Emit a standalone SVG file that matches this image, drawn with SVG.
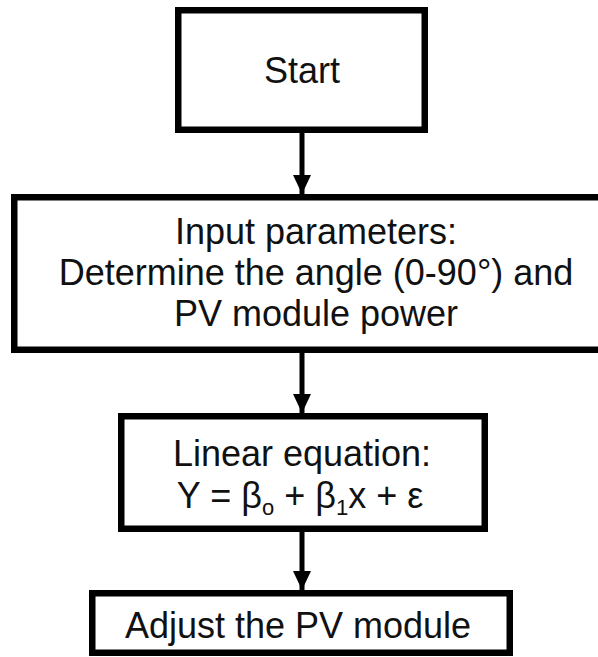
<svg xmlns="http://www.w3.org/2000/svg" width="598" height="657" viewBox="0 0 598 657">
<style>
.box{fill:#fff;stroke:#000;stroke-width:6.5}
.t{font-family:"Liberation Sans",Arial,sans-serif;font-size:36px;fill:#111;text-anchor:middle}
.c{stroke:#000;stroke-width:5;fill:none}
</style>
<defs>
<marker id="ah" markerUnits="userSpaceOnUse" markerWidth="20" markerHeight="18" refX="19" refY="9" orient="auto">
<path d="M0,0 L19,9 L0,18 Z" fill="#000"/>
</marker>
</defs>
<rect width="598" height="657" fill="#fff"/>
<g id="connectors">
<line class="c" x1="302" y1="133" x2="302" y2="194" marker-end="url(#ah)"/>
<line class="c" x1="302" y1="353" x2="302" y2="413" marker-end="url(#ah)"/>
<line class="c" x1="302" y1="532" x2="302" y2="590" marker-end="url(#ah)"/>
</g>
<g id="start">
<rect class="box" x="178.25" y="10.25" width="246.5" height="119.5"/>
<text class="t" x="302" y="83">Start</text>
</g>
<g id="input">
<rect class="box" x="14.25" y="197.25" width="604" height="152.5"/>
<text class="t" x="316" y="244">Input parameters:</text>
<text class="t" x="316" y="285">Determine the angle (0-90°) and</text>
<text class="t" x="316" y="326">PV module power</text>
</g>
<g id="equation">
<rect class="box" x="121.25" y="416.25" width="363.5" height="112.5"/>
<text class="t" x="302" y="466">Linear equation:</text>
<text class="t" x="300" y="508">Y = β<tspan font-size="22" dy="7">o</tspan><tspan dy="-7"> + β</tspan><tspan font-size="22" dy="7">1</tspan><tspan dy="-7">x + ε</tspan></text>
</g>
<g id="adjust">
<rect class="box" x="92.25" y="593.25" width="417.5" height="59.5"/>
<text class="t" x="298" y="638">Adjust the PV module</text>
</g>
</svg>
